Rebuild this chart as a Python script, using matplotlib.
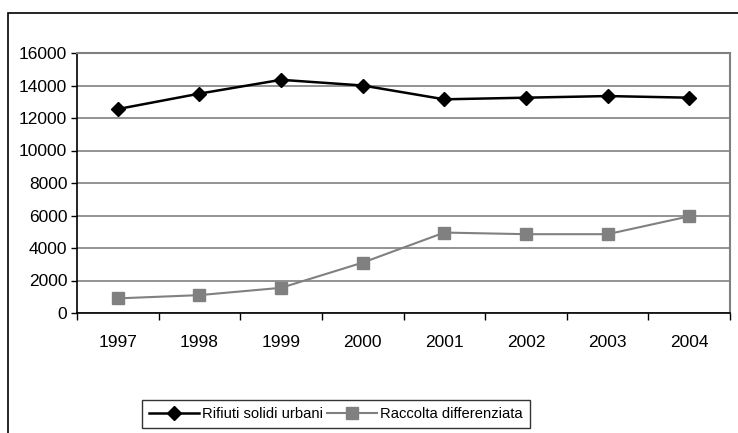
import matplotlib
matplotlib.use("Agg")
import matplotlib.pyplot as plt
from matplotlib.patches import Rectangle

years = ["1997", "1998", "1999", "2000", "2001", "2002", "2003", "2004"]
rifiuti = [12550, 13500, 14350, 14000, 13150, 13250, 13350, 13250]
raccolta = [900, 1100, 1550, 3100, 4950, 4850, 4850, 5950]
yticks = [0, 2000, 4000, 6000, 8000, 10000, 12000, 14000, 16000]
series_names = ["Rifiuti solidi urbani", "Raccolta differenziata"]

plt.rcParams['font.family'] = ['Liberation Sans', 'DejaVu Sans']
FS = 12.5
LFS = 10.6

W, H = 738, 433
fig = plt.figure(figsize=(W / 100, H / 100), dpi=100)

def box(l, t, r, b):
    return [l / W, 1 - b / H, (r - l) / W, (b - t) / H]

# outer chart frame
fig.patches.append(Rectangle((8 / W, -0.05), 1.2, 1 - 13 / H + 0.05,
                             transform=fig.transFigure, fill=False,
                             edgecolor='black', linewidth=1.2))

ax = fig.add_axes(box(77, 53, 730, 313))
x = list(range(len(years)))
ax.plot(x, rifiuti, color='black', linewidth=1.8, marker='D',
        markersize=7.5, markerfacecolor='black', markeredgecolor='black',
        label=series_names[0], zorder=3)
ax.plot(x, raccolta, color='#808080', linewidth=1.5, marker='s',
        markersize=8.5, markerfacecolor='#808080', markeredgecolor='#808080',
        label=series_names[1], zorder=3)

ax.set_xlim(-0.5, len(years) - 0.5)
ax.set_ylim(0, 16000)
ax.set_yticks(yticks)
ax.set_yticklabels([str(v) for v in yticks], fontsize=FS)
ax.yaxis.grid(True, color='#808080', linewidth=1.2)
ax.set_axisbelow(True)

ax.set_xticks([i + 0.5 for i in range(-1, len(years))], minor=False)
ax.set_xticklabels([])
ax.set_xticks(x, minor=True)
ax.set_xticklabels(years, minor=True, fontsize=FS)
ax.tick_params(axis='x', which='major', length=5, width=1, direction='out', color='black')
ax.tick_params(axis='x', which='minor', length=0, pad=16)
ax.tick_params(axis='y', length=4, width=1, direction='out', pad=3)

for s in ['top', 'right']:
    ax.spines[s].set_color('#808080')
    ax.spines[s].set_linewidth(1.5)
for s in ['left', 'bottom']:
    ax.spines[s].set_color('black')
    ax.spines[s].set_linewidth(1.2)

leg = fig.legend(loc='center', bbox_to_anchor=((152 + 520) / 2 / W, 1 - 414 / H),
                 ncol=2, fontsize=LFS, frameon=True, fancybox=False,
                 edgecolor='black', handlelength=3.4, handletextpad=0.2,
                 columnspacing=0.3, borderpad=0.5, borderaxespad=0)
leg.get_frame().set_linewidth(1.0)

fig.savefig("out.png", dpi=100)
